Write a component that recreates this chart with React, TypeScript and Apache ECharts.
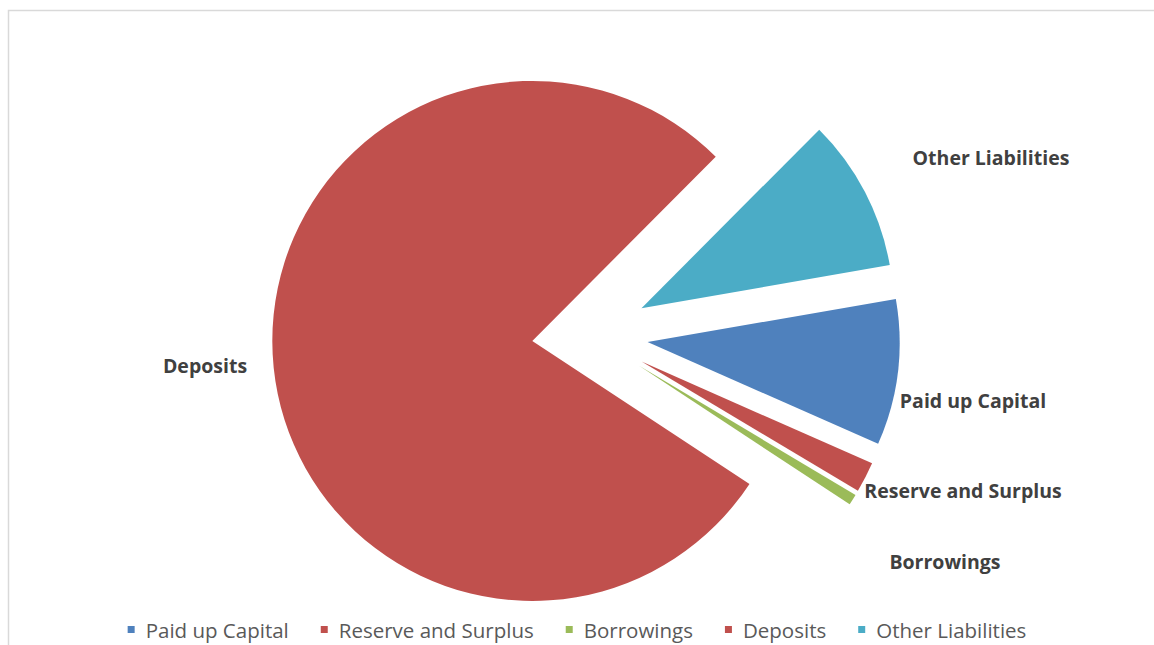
import React, { useEffect, useRef } from "react";
import * as echarts from "echarts";

const categories = ["Paid up Capital", "Reserve and Surplus", "Borrowings", "Deposits", "Other Liabilities"];
const values = [9.35, 1.95, 0.7, 78.2, 9.8];
const colors = ["#4F81BD", "#C0504D", "#9BBB59", "#C0504D", "#4BACC6"];
// which slice is drawn at the larger radius
const mainSlice = "Deposits";

// label centre positions (px) for each category
const labelPos: Record<string, [number, number]> = {
  "Paid up Capital": [973, 400],
  "Reserve and Surplus": [963, 490],
  "Borrowings": [945, 561],
  "Deposits": [205, 365],
  "Other Liabilities": [991, 157],
};

export default function App() {
  const ref = useRef<HTMLDivElement>(null);
  useEffect(() => {
    if (!ref.current) return;
    const chart = echarts.init(ref.current, null, { renderer: "svg" });

    const makeSeries = (radius: number, showMain: boolean) => ({
      type: "pie",
      center: [590, 335],
      radius: [0, radius],
      startAngle: 9.85,
      clockwise: true,
      selectedMode: "multiple",
      selectedOffset: 58,
      silent: true,
      emphasis: { disabled: true },
      label: { show: false },
      labelLine: { show: false },
      data: categories.map((name, i) => {
        const visible = (name === mainSlice) === showMain;
        return {
          name,
          value: values[i],
          selected: true,
          itemStyle: { color: visible ? colors[i] : "rgba(0,0,0,0)" },
        };
      }),
    });

    chart.setOption({
      animation: false,
      backgroundColor: "#ffffff",
      graphic: [
        {
          type: "rect",
          shape: { x: 8.5, y: 10.5, width: 1160, height: 700 },
          style: { fill: "none", stroke: "#d9d9d9", lineWidth: 1.5 },
          silent: true,
        },
        ...categories.map((name) => ({
          type: "text",
          x: labelPos[name][0],
          y: labelPos[name][1],
          silent: true,
          style: {
            text: name,
            fontFamily: "Open Sans",
            fontWeight: "bold",
            fontSize: 19.5,
            fill: "#404040",
            textAlign: "center",
            textVerticalAlign: "middle",
          },
        })),
      ],
      legend: {
        data: categories.map((name, i) => ({ name, itemStyle: { color: colors[i] } })),
        left: "center",
        top: 614,
        icon: "rect",
        itemWidth: 7,
        itemHeight: 7,
        itemGap: 32,
        selectedMode: false,
        textStyle: {
          fontFamily: "Open Sans",
          fontSize: 20.5,
          color: "#595959",
          padding: [0, 0, 0, 6],
        },
      },
      series: [makeSeries(260, true), makeSeries(252, false)],
    });
    return () => chart.dispose();
  }, []);
  return (
    <div
      ref={ref}
      style={{ position: "fixed", left: 0, top: 0, width: 1154, height: 645 }}
    />
  );
}
